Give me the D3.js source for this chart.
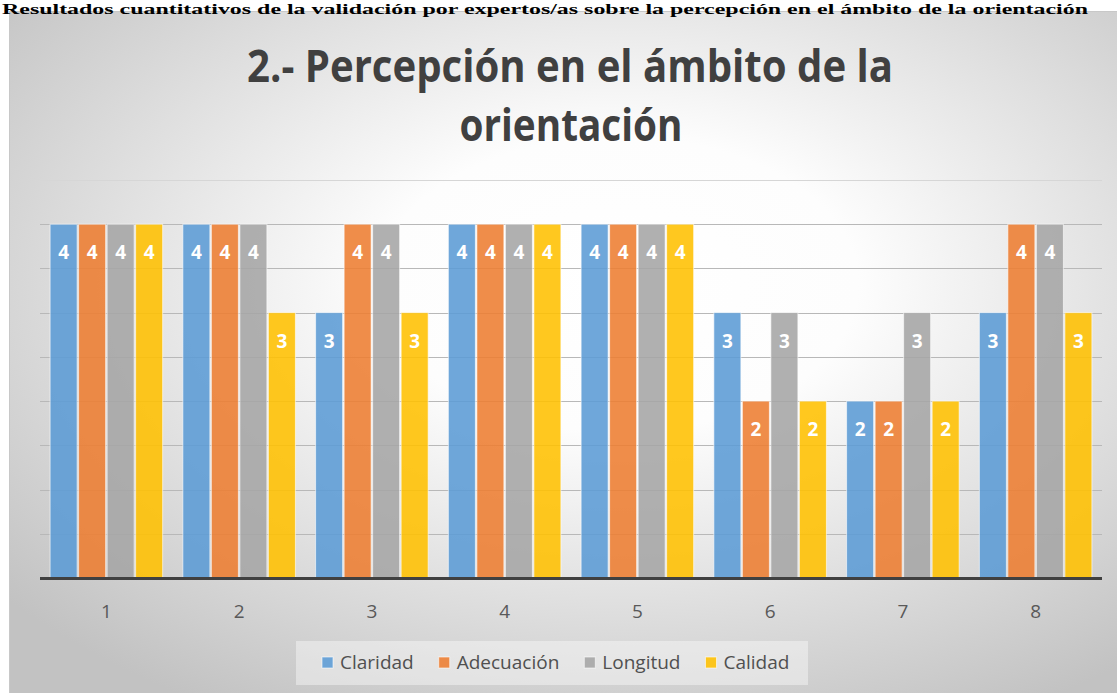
<!DOCTYPE html>
<html>
<head>
<meta charset="utf-8">
<title>Percepción en el ámbito de la orientación</title>
<style>
body { margin: 0; background: #fff; }
svg { display: block; }
</style>
</head>
<body>
<svg id="chart" width="1117" height="693"></svg>
<script src="https://d3js.org/d3.v7.min.js"></script>
<script>
// items evaluated by the experts
var items = ["1", "2", "3", "4", "5", "6", "7", "8"];
var seriesNames = ["Claridad", "Adecuación", "Longitud", "Calidad"];
var claridad   = [4, 4, 3, 4, 4, 3, 2, 3];
var adecuacion = [4, 4, 4, 4, 4, 2, 2, 4];
var longitud   = [4, 4, 4, 4, 4, 3, 3, 4];
var calidad    = [4, 3, 3, 4, 4, 2, 2, 3];
var gridTicks  = [0.5, 1, 1.5, 2, 2.5, 3, 3.5, 4, 4.5];
var colors = ["#5b9bd5", "#ed7d31", "#a5a5a5", "#ffc000"];

var seriesValues = [claridad, adecuacion, longitud, calidad];

var svg = d3.select("#chart");
var defs = svg.append("defs");

// soft radial background like the office chart style
var grad = defs.append("radialGradient")
    .attr("id", "bg")
    .attr("cx", 0.55).attr("cy", 0.4).attr("r", 0.72)
    .attr("fx", 0.55).attr("fy", 0.4);
grad.append("stop").attr("offset", "0").attr("stop-color", "#ffffff");
grad.append("stop").attr("offset", "0.3").attr("stop-color", "#fdfdfd");
grad.append("stop").attr("offset", "1").attr("stop-color", "#c2c2c2");

svg.append("rect")
    .attr("x", 9.5).attr("y", 11.5)
    .attr("width", 1108).attr("height", 682)
    .attr("fill", "url(#bg)")
    .attr("stroke", "#c8c8c8");

// caption above the chart
svg.append("text")
    .attr("x", 2).attr("y", 14)
    .attr("font-family", "Liberation Serif, Times New Roman, serif")
    .attr("font-weight", "bold")
    .attr("font-size", 15)
    .attr("textLength", 1086)
    .attr("lengthAdjust", "spacingAndGlyphs")
    .attr("fill", "#000")
    .text("Resultados cuantitativos de la validación por expertos/as sobre la percepción en el ámbito de la orientación");

// title
var title = svg.append("g")
    .attr("font-family", "Open Sans, sans-serif")
    .attr("font-weight", "bold")
    .attr("font-size", 44)
    .attr("fill", "#404040")
    .attr("text-anchor", "middle");
title.append("text").attr("x", 570).attr("y", 82)
    .attr("textLength", 646).attr("lengthAdjust", "spacingAndGlyphs")
    .text("2.- Percepción en el ámbito de la");
title.append("text").attr("x", 571).attr("y", 141)
    .attr("textLength", 223).attr("lengthAdjust", "spacingAndGlyphs")
    .text("orientación");

// scales
var x0 = d3.scaleBand().domain(items).range([40, 1102])
    .paddingInner(0.141).paddingOuter(0.0705);
var x1 = d3.scaleBand().domain(seriesNames).range([0, x0.bandwidth()]);
var y = d3.scaleLinear().domain([0, 4.5]).range([578, 180]);

// gridlines
svg.append("g").selectAll("line")
    .data(gridTicks)
  .enter().append("line")
    .attr("x1", 40).attr("x2", 1102)
    .attr("y1", function(d) { return Math.round(y(d)) + 0.5; })
    .attr("y2", function(d) { return Math.round(y(d)) + 0.5; })
    .attr("stroke", function(d) { return d === 4.5 ? "#d6d6d6" : "#b8b8b8"; })
    .attr("stroke-width", 1);

// bars
var rows = items.map(function(it, i) {
    return seriesNames.map(function(s, j) {
        return { item: it, series: s, value: seriesValues[j][i], color: colors[j] };
    });
});

var groups = svg.append("g").selectAll("g")
    .data(rows)
  .enter().append("g")
    .attr("transform", function(d, i) { return "translate(" + x0(items[i]) + ",0)"; });

groups.selectAll("rect")
    .data(function(d) { return d; })
  .enter().append("rect")
    .attr("x", function(d) { return x1(d.series) + 0.75; })
    .attr("y", function(d) { return y(d.value); })
    .attr("width", x1.bandwidth() - 1.5)
    .attr("height", function(d) { return y(0) - y(d.value); })
    .attr("fill", function(d) { return d.color; })
    .attr("fill-opacity", 0.88)
    .attr("stroke", "#ffffff")
    .attr("stroke-opacity", 0.6)
    .attr("stroke-width", 1);

groups.selectAll("text")
    .data(function(d) { return d; })
  .enter().append("text")
    .attr("x", function(d) { return x1(d.series) + x1.bandwidth() / 2; })
    .attr("y", function(d) { return y(d.value) + 35; })
    .attr("text-anchor", "middle")
    .attr("font-family", "Open Sans, sans-serif")
    .attr("font-weight", "bold")
    .attr("font-size", 19)
    .attr("fill", "#ffffff")
    .text(function(d) { return d.value; });

// axis line
svg.append("line")
    .attr("x1", 40).attr("x2", 1102)
    .attr("y1", y(0) + 0.5).attr("y2", y(0) + 0.5)
    .attr("stroke", "#404040")
    .attr("stroke-width", 3);

// category labels
svg.append("g").selectAll("text")
    .data(items)
  .enter().append("text")
    .attr("x", function(d) { return x0(d) + x0.bandwidth() / 2; })
    .attr("y", 618)
    .attr("text-anchor", "middle")
    .attr("font-family", "Open Sans, sans-serif")
    .attr("font-size", 19)
    .attr("fill", "#595959")
    .text(function(d) { return d; });

// legend
var legend = svg.append("g");
legend.append("rect")
    .attr("x", 296).attr("y", 641)
    .attr("width", 512).attr("height", 44)
    .attr("fill", "#ffffff").attr("fill-opacity", 0.4);

var lx = 322;
seriesNames.forEach(function(s, j) {
    legend.append("rect")
        .attr("x", lx).attr("y", 657)
        .attr("width", 11).attr("height", 11)
        .attr("fill", colors[j]).attr("fill-opacity", 0.88)
        .attr("stroke", "#ffffff").attr("stroke-opacity", 0.6);
    var t = legend.append("text")
        .attr("x", lx + 18).attr("y", 669)
        .attr("font-family", "Open Sans, sans-serif")
        .attr("font-size", 19)
        .attr("fill", "#505050")
        .text(s);
    lx += 18 + t.node().getComputedTextLength() + 25;
});
</script>
</body>
</html>
